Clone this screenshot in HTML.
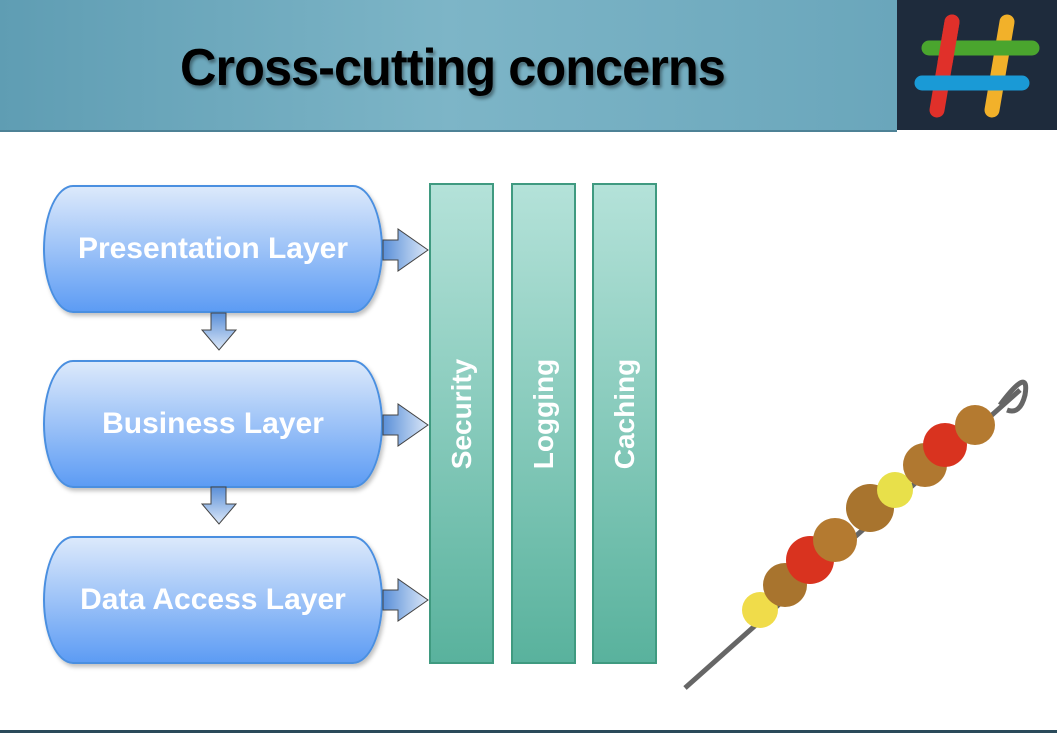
<!DOCTYPE html>
<html><head><style>
body{margin:0;width:1057px;height:733px;overflow:hidden;background:#fff;font-family:"Liberation Sans",sans-serif;position:relative}
.hdr{position:absolute;left:0;top:0;width:897px;height:130px;background:linear-gradient(90deg,#5f9db3,#7db5c7 50%,#6aa6bb);border-bottom:2px solid #4d8296}
.hdr h1{position:absolute;left:180px;top:38px;margin:0;font-size:52px;font-weight:bold;color:#000;letter-spacing:-1px;text-shadow:2px 3px 3px rgba(0,0,0,.4);transform:scaleX(.97);transform-origin:left;white-space:nowrap}
.logo{position:absolute;left:897px;top:0;width:160px;height:130px;background:#1e2b3c}
.box{position:absolute;left:43px;width:340px;height:128px;border:2px solid #4a8fe0;border-radius:30px/64px;background:linear-gradient(#dce9fb,#5d9cf4);box-sizing:border-box;color:#fff;font-weight:bold;font-size:30px;display:flex;align-items:center;justify-content:center;box-shadow:2px 3px 4px rgba(0,0,0,.25)}
.col{position:absolute;top:183px;width:65px;height:481px;border:2px solid #3f9a80;box-sizing:border-box;background:linear-gradient(#b4e2d9,#59b29d)}
.col span{position:absolute;left:50%;top:229px;transform:translate(-50%,-50%) rotate(-90deg);color:#fff;font-weight:bold;font-size:28px;white-space:nowrap}
.foot{position:absolute;left:0;top:730px;width:1057px;height:3px;background:#2a4a5a}
</style></head><body>
<div class="hdr"><h1>Cross-cutting concerns</h1></div>
<div class="logo"><svg width="160" height="130">
<g stroke-linecap="round" stroke-width="15">
<line x1="55" y1="22" x2="40" y2="110" stroke="#e0302a"/>
<line x1="110" y1="22" x2="95" y2="110" stroke="#f2b12a"/>
<line x1="32" y1="48" x2="135" y2="48" stroke="#4aa52e"/>
<line x1="25" y1="83" x2="125" y2="83" stroke="#1a9ad6"/>
<line x1="55" y1="22" x2="48" y2="63" stroke="#e0302a"/>
</g></svg></div>
<div class="box" style="top:185px">Presentation Layer</div>
<div class="box" style="top:360px">Business Layer</div>
<div class="box" style="top:536px">Data Access Layer</div>
<svg style="position:absolute;left:0;top:0" width="1057" height="733">
<defs><linearGradient id="ag" x1="0" y1="0" x2="1" y2="0"><stop offset="0" stop-color="#5a8fd8"/><stop offset="1" stop-color="#dce8f8"/></linearGradient>
<linearGradient id="av" x1="0" y1="0" x2="0" y2="1"><stop offset="0" stop-color="#5a8fd8"/><stop offset="1" stop-color="#dce8f8"/></linearGradient></defs>
<g stroke="#444" stroke-width="1" fill="url(#ag)">
<path d="M383 240h15v-11l30 21-30 21v-11h-15z"/>
<path d="M383 415h15v-11l30 21-30 21v-11h-15z"/>
<path d="M383 590h15v-11l30 21-30 21v-11h-15z"/>
</g>
<g stroke="#444" stroke-width="1" fill="url(#av)">
<path d="M211 313h15v17h10l-17 20-17-20h9z"/>
<path d="M211 487h15v17h10l-17 20-17-20h9z"/>
</g>
<g>
<line x1="685" y1="688" x2="1020" y2="390" stroke="#666" stroke-width="5"/>
<path d="M1000 405 q30 -40 25 -10 q-5 20 -18 15" stroke="#666" stroke-width="5" fill="none"/>
<circle cx="760" cy="610" r="18" fill="#f0dc4a"/>
<circle cx="785" cy="585" r="22" fill="#a8742e"/>
<circle cx="810" cy="560" r="24" fill="#d9331f"/>
<circle cx="835" cy="540" r="22" fill="#b47a30"/>
<circle cx="870" cy="508" r="24" fill="#a8742e"/>
<circle cx="895" cy="490" r="18" fill="#e8e04a"/>
<circle cx="925" cy="465" r="22" fill="#b07830"/>
<circle cx="945" cy="445" r="22" fill="#d9331f"/>
<circle cx="975" cy="425" r="20" fill="#b47a30"/>
</g>
</svg>
<div class="col" style="left:429px"><span>Security</span></div>
<div class="col" style="left:511px"><span>Logging</span></div>
<div class="col" style="left:592px"><span>Caching</span></div>
<div class="foot"></div>
</body></html>
